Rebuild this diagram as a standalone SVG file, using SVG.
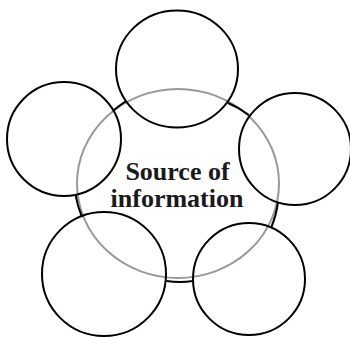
<svg xmlns="http://www.w3.org/2000/svg" width="350" height="337" viewBox="0 0 350 337">
<style>
.c{fill:none;stroke:#000;stroke-width:2}
.g{fill:none;stroke:#999;stroke-width:2}
.t{font-family:"Liberation Serif","Times New Roman",serif;font-weight:bold;font-size:26px;fill:#1a1a1a;text-anchor:middle}
</style>
<rect width="350" height="337" fill="#fff"/>
<g id="center">
<ellipse class="g" cx="178" cy="183.5" rx="101" ry="94.5"/>
<text class="t" x="177.5" y="180">Source of</text>
<text class="t" x="177" y="207">information</text>
</g>
<g id="connectors">
<path class="c" d="M114,110 A100,100 0 0 1 125.5,101.5"/>
<path class="c" d="M228,103 A100,100 0 0 1 249,115"/>
<path class="c" d="M278,202 A100,100 0 0 1 271,228"/>
<path class="c" d="M193,281 A100,100 0 0 1 166.5,281"/>
<path class="c" d="M82,217 A100,100 0 0 1 75.5,194.5"/>
</g>
<g id="top"><ellipse class="c" cx="177" cy="69" rx="61" ry="58.5"/></g>
<g id="left"><circle class="c" cx="64" cy="139" r="57"/></g>
<g id="right"><circle class="c" cx="295" cy="149" r="56"/></g>
<g id="bottom-left"><circle class="c" cx="104" cy="274" r="62"/></g>
<g id="bottom-right"><circle class="c" cx="249" cy="279" r="56"/></g>
</svg>
